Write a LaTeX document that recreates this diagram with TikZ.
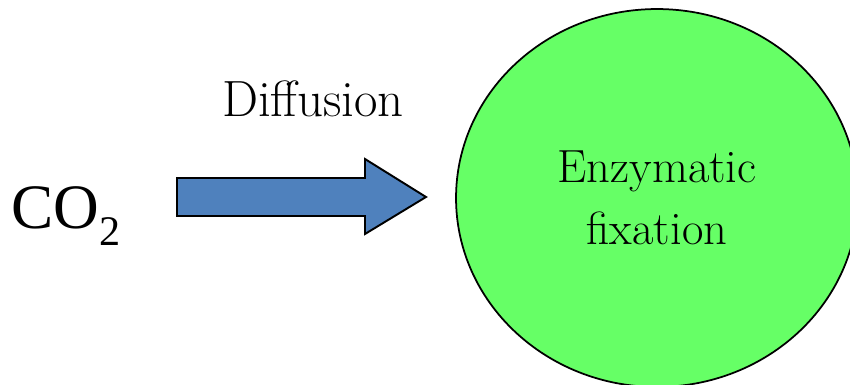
\documentclass[tikz,border=0pt]{standalone}
\usepackage{fontspec}
\newfontfamily\gasfont{Liberation Serif}[Ligatures=TeX]
\usepackage{tikz}
\usetikzlibrary{positioning,shapes.geometric}
\definecolor{ink}{RGB}{0,0,0}
\definecolor{flowblue}{RGB}{79,129,189}
\definecolor{cellgrn}{RGB}{102,255,102}
\tikzset{
  cell/.style={ellipse,draw=ink,line width=1pt,fill=cellgrn,minimum width=8.04cm,
    minimum height=7.56cm,inner sep=0pt,align=center,
    font=\fontsize{26.5}{35}\selectfont},
  flow/.style={draw=ink,line width=1.1pt,fill=flowblue,line join=miter},
  lbl/.style={inner sep=0pt,font=\fontsize{29}{34}\selectfont},
  gas/.style={inner sep=0pt,font=\fontsize{36}{42}\selectfont},
}

\begin{document}
\begin{tikzpicture}[x=0.02cm,y=-0.02cm]
\useasboundingbox (0,0) rectangle (850,385);
\clip (0,0) rectangle (850,385);
% right: the green cell
\node[cell] (fix) at (657,198) {Enzymatic\\fixation};
% left: the gas
\node[gas,anchor=base west] (co2) at (11,229)
  {\gasfont CO\raisebox{-9.5pt}{\fontsize{24}{24}\selectfont 2}};
% middle: block arrow with its label
\draw[flow] (177,178) -- (365,178) -- (365,159) -- (426,197)
  -- (365,234) -- (365,216) -- (177,216) -- cycle;
\node[lbl,anchor=base] (diff) at (313,117) {Diffusion};
\end{tikzpicture}
\end{document}
